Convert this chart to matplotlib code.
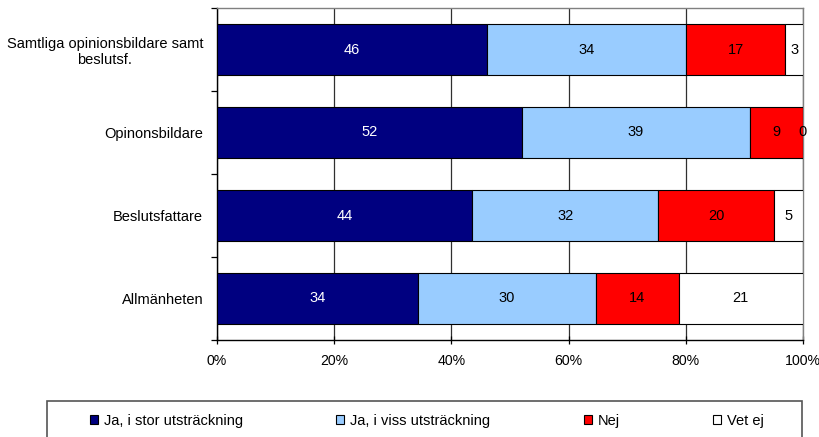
import numpy as np
import matplotlib
matplotlib.use("Agg")
import matplotlib.pyplot as plt
from matplotlib.patches import Rectangle
from matplotlib.ticker import FuncFormatter

plt.rcParams['font.family'] = ['Liberation Sans', 'DejaVu Sans']

# Data (percent)
categories = ["Samtliga opinionsbildare samt\nbeslutsf.", "Opinonsbildare",
              "Beslutsfattare", "Allmänheten"]
series_names = ["Ja, i stor utsträckning", "Ja, i viss utsträckning", "Nej", "Vet ej"]
ja_stor = [46, 52, 44, 34]
ja_viss = [34, 39, 32, 30]
nej = [17, 9, 20, 14]
vet_ej = [3, 0, 5, 21]

colors = ['#000080', '#99CCFF', '#FF0000', '#FFFFFF']
text_colors = ['white', 'black', 'black', 'black']

vals = np.array([ja_stor, ja_viss, nej, vet_ej], dtype=float)
shares = vals / vals.sum(axis=0) * 100  # 100% stacked

fig = plt.figure(figsize=(8.2, 4.37), dpi=100)
ax = fig.add_axes([217/820, 1-340/437, (803-217)/820, (340-8)/437])

y = np.arange(len(categories))
left = np.zeros(len(categories))
fs = 10.5
for i in range(len(series_names)):
    ax.barh(y, shares[i], left=left, height=0.625, color=colors[i],
            edgecolor='black', linewidth=0.8, label=series_names[i], zorder=3)
    for j in range(len(categories)):
        cx = left[j] + shares[i][j] / 2
        ax.text(cx, y[j], "%d" % vals[i][j], ha='center', va='center',
                color=text_colors[i], fontsize=fs, zorder=4)
    left = left + shares[i]

ax.set_xlim(0, 100)
ax.set_ylim(len(categories) - 0.5, -0.5)
ax.set_xticks([0, 20, 40, 60, 80, 100])
ax.xaxis.set_major_formatter(FuncFormatter(lambda v, p: "%d%%" % v))
ax.grid(axis='x', color='#303030', linewidth=0.9, zorder=0)
ax.set_axisbelow(True)

ax.set_yticks(y)
ax.set_yticklabels(categories, multialignment='center')
ax.set_yticks(np.arange(-0.5, len(categories)), minor=True)
ax.tick_params(axis='y', which='major', length=0, pad=10, labelsize=fs)
ax.tick_params(axis='y', which='minor', length=4, direction='out', width=0.9)
ax.tick_params(axis='x', length=6, direction='inout', width=0.9, pad=7, labelsize=10.2)

for s in ['left', 'bottom']:
    ax.spines[s].set_color('black')
    ax.spines[s].set_linewidth(1.0)
for s in ['top', 'right']:
    ax.spines[s].set_color('#808080')
    ax.spines[s].set_linewidth(1.0)

# legend box (cut off at the bottom edge like the original)
fig.patches.append(Rectangle((47/820, -0.05), (802-47)/820, 0.05 + 1-401/437,
                             transform=fig.transFigure, facecolor='none',
                             edgecolor='#555555', linewidth=1.2))
handles, labels = ax.get_legend_handles_labels()
fig.legend(handles, labels, loc='center', ncol=4, mode='expand', frameon=False,
           bbox_to_anchor=(90/820, 1-421/437 - 0.02, (764-90)/820, 0.04),
           fontsize=fs, handlelength=0.55, handleheight=0.55, handletextpad=0.4,
           borderaxespad=0, borderpad=0)

fig.savefig("out.png", dpi=100)
